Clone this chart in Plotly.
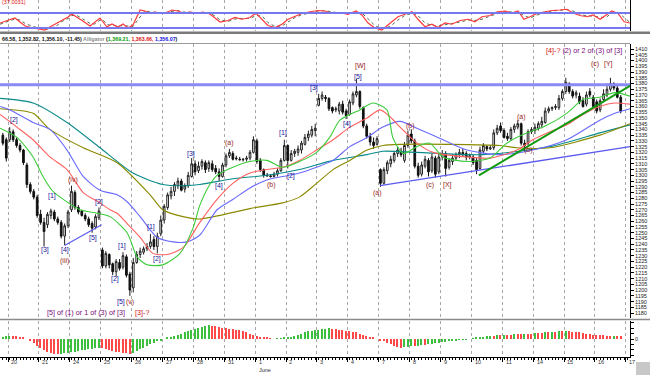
import plotly.graph_objects as go

# ---------------- data ----------------
days = ["20", "21", "24", "25", "26", "27", "28", "31", "1", "2", "3", "4",
        "7", "8", "9", "10", "11", "14", "15", "16", "17"]
month_label = "June"
month_day_index = 8
BARS_PER_DAY = 9
LEAD_BARS = 2

opens = [1335, 1331, 1331, 1338, 1331, 1326, 1322, 1309, 1292, 1286, 1281,
         1266, 1259, 1257, 1265, 1268, 1262, 1259, 1247, 1256,
         1270, 1285, 1272, 1269, 1265, 1262, 1258, 1255, 1263,
         1235, 1221, 1231, 1223, 1216, 1224, 1220, 1229, 1214,
         1202, 1224, 1231, 1233, 1236, 1238, 1244, 1238, 1249,
         1261, 1272, 1282, 1286, 1291, 1295, 1288, 1291, 1299,
         1310, 1304, 1308, 1311, 1306, 1310, 1306, 1303, 1299,
         1309, 1317, 1319, 1315, 1314, 1313.5, 1314, 1315, 1320,
         1330, 1313, 1305, 1300, 1299.5, 1299, 1301, 1304, 1313,
         1326, 1313, 1319, 1320, 1322, 1327, 1333, 1335, 1339,
         1361, 1367, 1368, 1367, 1359, 1357, 1356, 1362, 1356,
         1353, 1363, 1370, 1373, 1359, 1343, 1334, 1329, 1327,
         1305, 1293, 1304, 1310, 1313, 1319, 1321, 1313, 1326,
         1336, 1330, 1308, 1301, 1308, 1313, 1304, 1315, 1303,
         1316, 1319, 1307, 1312, 1315, 1318, 1320, 1319, 1316,
         1316, 1313, 1306, 1321, 1325, 1323, 1324, 1337, 1343,
         1339, 1334, 1332, 1340, 1342, 1345, 1328, 1328, 1338,
         1339, 1341, 1344, 1346, 1356, 1358, 1359, 1359, 1367,
         1373, 1380, 1373, 1370, 1369, 1365, 1362, 1373, 1368,
         1364, 1357, 1366, 1370, 1375, 1380, 1376, 1368]
highs = [1337, 1333, 1342, 1340, 1333, 1328, 1323, 1311, 1294, 1288, 1283,
         1270, 1263, 1268, 1271, 1270, 1264, 1261, 1258, 1270,
         1291, 1287, 1274, 1270, 1267, 1264, 1260, 1266, 1272,
         1237, 1234, 1232, 1224, 1227, 1227, 1233, 1231, 1216,
         1228, 1234, 1237, 1238, 1241, 1249, 1247, 1250, 1265,
         1275, 1285, 1290, 1294, 1298, 1297, 1293, 1303, 1315,
         1313, 1312, 1314, 1313, 1313, 1313, 1309, 1306, 1311,
         1319, 1323, 1321, 1317, 1316, 1315, 1317, 1322, 1334,
         1332, 1315, 1306, 1302, 1301, 1303, 1306, 1315, 1331,
         1327, 1322, 1323, 1326, 1330, 1336, 1339, 1343, 1345,
         1371, 1373, 1370, 1368, 1360, 1360, 1364, 1365, 1358,
         1366, 1373, 1384, 1374, 1360, 1345, 1337, 1333, 1334,
         1306, 1307, 1313, 1317, 1321, 1325, 1324, 1329, 1339,
         1340, 1332, 1311, 1312, 1317, 1315, 1319, 1317, 1320,
         1322, 1321, 1315, 1318, 1320, 1323, 1323, 1321, 1319,
         1318, 1315, 1325, 1328, 1326, 1326, 1340, 1344, 1346,
         1341, 1337, 1342, 1345, 1348, 1346, 1331, 1340, 1342,
         1345, 1347, 1351, 1359, 1360, 1360, 1362, 1370, 1375,
         1385, 1381, 1375, 1374, 1372, 1368, 1373, 1376, 1370,
         1366, 1367, 1375, 1380, 1385, 1381, 1379, 1370]
lows = [1326, 1312, 1329, 1329, 1324, 1320, 1309, 1289, 1284, 1279, 1263,
        1257, 1238, 1254, 1262, 1260, 1257, 1245, 1239, 1254,
        1268, 1270, 1266, 1264, 1260, 1255, 1250, 1253, 1261,
        1219, 1219, 1219, 1213, 1212, 1217, 1218, 1211, 1195,
        1198, 1223, 1228, 1231, 1234, 1236, 1235, 1232, 1247,
        1258, 1270, 1279, 1282, 1288, 1286, 1285, 1289, 1298,
        1300, 1302, 1305, 1302, 1303, 1303, 1301, 1295, 1298,
        1307, 1315, 1313, 1313, 1313, 1312, 1312, 1313, 1319,
        1310, 1303, 1298, 1299, 1298, 1298, 1299, 1303, 1312,
        1306, 1312, 1316, 1317, 1319, 1326, 1330, 1333, 1334,
        1360, 1365, 1364, 1356, 1354, 1355, 1353, 1353, 1349,
        1352, 1361, 1368, 1358, 1341, 1332, 1326, 1323, 1326,
        1290, 1292, 1301, 1307, 1311, 1316, 1316, 1311, 1324,
        1328, 1306, 1298, 1299, 1306, 1299, 1302, 1298, 1301,
        1313, 1299, 1305, 1309, 1313, 1315, 1316, 1313, 1314,
        1309, 1301, 1305, 1319, 1321, 1322, 1322, 1335, 1337,
        1332, 1330, 1330, 1337, 1340, 1326, 1322, 1326, 1336,
        1336, 1339, 1341, 1345, 1354, 1356, 1357, 1357, 1365,
        1371, 1371, 1367, 1367, 1362, 1359, 1360, 1368, 1359,
        1354, 1355, 1364, 1368, 1373, 1374, 1367, 1354]
closes = [1328, 1315, 1338, 1331, 1326, 1322, 1311, 1292, 1286, 1281, 1265,
          1259, 1251, 1266, 1269, 1262, 1259, 1247, 1256, 1268,
          1286, 1272, 1268, 1265, 1262, 1257, 1254, 1264, 1269,
          1221, 1232, 1222, 1216, 1225, 1219, 1230, 1213, 1200,
          1224, 1231, 1234, 1236, 1238, 1242, 1238, 1247, 1261,
          1273, 1283, 1286, 1292, 1295, 1287, 1291, 1300, 1310,
          1303, 1308, 1312, 1305, 1311, 1305, 1303, 1299, 1309,
          1317, 1320, 1314, 1314.5, 1313.5, 1314, 1315, 1320, 1331,
          1312, 1305, 1300, 1299.5, 1299, 1301, 1304, 1313, 1326,
          1313, 1319, 1321, 1323, 1328, 1333, 1336, 1340, 1341,
          1367, 1370, 1367, 1358, 1356, 1358, 1362, 1355, 1352,
          1364, 1371, 1373, 1360, 1343, 1334, 1329, 1326, 1332,
          1293, 1305, 1311, 1314, 1319, 1322, 1318, 1326, 1335,
          1330, 1308, 1300, 1309, 1314, 1303, 1316, 1301, 1316,
          1319, 1306, 1313, 1315, 1318, 1320, 1318, 1316, 1317,
          1311, 1305, 1322, 1326, 1323, 1324, 1337, 1341, 1339,
          1333, 1332, 1340, 1343, 1345, 1328, 1326, 1338, 1340,
          1342, 1345, 1347, 1356, 1358, 1359, 1360, 1367, 1373,
          1381, 1373, 1369, 1372, 1364, 1360, 1370, 1370, 1360,
          1356, 1365, 1371, 1375, 1380, 1376, 1368, 1356]

# Awesome-oscillator style histogram, one value per bar
ao_values = [2, 2.5, 3, 3, 2.5, 2, 1.5,
             0, -2, -4, -6, -8, -10,
             -12, -13, -13.5, -14,
             -13.5, -13, -12.5, -12, -11.5, -11, -10.5, -10, -9.5, -9, -8.5, -8,
             -8.5, -9.5, -10.5, -11, -11.5, -12, -12.5, -13, -13.5,
             -12.5, -11, -9.5, -8, -6.5, -5, -3.5, -2, -1,
             0, 1, 2, 3, 4, 5, 6, 7, 8, 9, 10, 11, 12,
             12.5, 12, 11.5, 11, 10.5, 10, 9.5, 9, 8.5, 8, 7, 6, 5, 4, 3, 2, 1.5, 1,
             0.5, 0, 0.3, 0.6, 1,
             1.5, 2, 3, 4, 5, 6, 7, 7.5, 8, 8.5, 9, 9.5, 10,
             9.5, 9, 8.5, 8, 7.5, 7, 6.5, 6, 5, 4, 3, 2, 1, 0, -1,
             -2, -3.5, -5, -6.5, -7.5, -8,
             -7.5, -7, -6.5, -6.5, -6, -5.5, -5.5, -5, -4.5, -4, -3.5, -3, -2.5, -2,
             -1.5, -1.2, -0.8, -0.5, -0.2, 0,
             0.5, 1, 1.5, 2, 2.5, 3, 3, 3.5, 3.5, 4, 4, 4, 4.5, 4.5, 4.5, 5, 5, 5,
             5.5, 5.5, 5.5, 6, 6, 6.5, 6.5, 7, 7, 7.5,
             7.2, 6.8, 6.5, 6, 5.5, 5, 4.5, 4, 4, 3.5, 3.5, 3, 3, 3.2, 3, 2.5]

# Moving-average lines (bar position, price)
green_x = [-0.8, 4.1, 8.8, 11.7, 14.3, 16.7, 22.5, 27.4, 31.2, 36.2, 39.1, 42.0, 46.6, 51.6, 55.4,
           57.4, 60.3, 62.4, 67.0, 72.0, 76.9, 81.5, 86.4, 91.4, 95.2, 98.2, 104.0, 107.8, 111.9,
           113.6, 116.6, 120.6, 124.4, 128.2, 135.2, 141.9, 146.8, 152.7, 157.4, 164.3, 169.0,
           173.9, 178.3, 182.7]
green_y = [1341, 1333, 1316, 1299, 1287, 1281, 1270, 1267, 1264, 1250, 1229, 1222, 1222, 1232, 1254,
           1274, 1292, 1300, 1307, 1312, 1313, 1307, 1312, 1320, 1333, 1348, 1357, 1363, 1357,
           1333, 1319, 1325, 1328, 1316, 1312, 1315, 1328, 1337, 1342, 1354, 1366, 1368, 1372, 1369]
red_x = [-0.8, 4.1, 8.8, 13.7, 18.7, 23.4, 28.3, 31.2, 33.3, 36.2, 40.0, 43.7, 47.8, 52.5, 57.4,
         62.4, 67.0, 72.0, 76.9, 81.5, 86.4, 91.4, 96.2, 101.1, 106.1, 109.9, 112.8, 115.7, 120.6,
         125.3, 135.2, 141.9, 149.8, 154.4, 159.4, 164.3, 169.0, 173.9, 178.3, 182.7]
red_y = [1353, 1342, 1331, 1316, 1305, 1285, 1276, 1270, 1267, 1258, 1246, 1232, 1231, 1237, 1259,
         1279, 1293, 1302, 1305, 1307, 1313, 1322, 1331, 1342, 1350, 1357, 1351, 1342, 1328,
         1320, 1316, 1315, 1322, 1331, 1338, 1344, 1353, 1360, 1363, 1362]
blue_x = [-0.8, 2.1, 8.8, 13.7, 18.7, 23.4, 28.3, 33.3, 36.2, 40.0, 44.9, 49.6, 53.6, 57.4, 62.4,
          67.0, 72.0, 76.9, 81.5, 86.4, 91.4, 96.2, 101.1, 106.1, 110.7, 115.7, 120.6, 125.3,
          135.2, 144.8, 154.4, 164.3, 173.9, 178.3, 182.7]
blue_y = [1360, 1357, 1346, 1340, 1322, 1299, 1287, 1283, 1277, 1264, 1246, 1242, 1242, 1248, 1270,
          1279, 1289, 1296, 1299, 1302, 1307, 1313, 1325, 1333, 1342, 1347, 1341, 1335,
          1322, 1318, 1322, 1331, 1348, 1354, 1358]
olive_x = [-0.8, 8.8, 13.7, 23.4, 33.3, 42.9, 46.6, 52.5, 57.4, 72.0, 81.5, 86.4, 91.4, 96.2,
           101.1, 106.1, 110.7, 115.7, 130.2, 144.8, 149.8, 159.4, 173.9, 182.7]
olive_y = [1358, 1354, 1340, 1324, 1311, 1283, 1270, 1264, 1262, 1271, 1276, 1281, 1293, 1305,
           1313, 1322, 1326, 1327, 1327, 1326, 1324, 1324, 1335, 1345]
teal_x = [-0.8, 8.8, 18.7, 28.3, 37.9, 46.6, 53.6, 57.4, 67.0, 76.9, 86.4, 96.2, 106.1, 110.7,
          120.6, 139.9, 159.4, 173.9, 182.7]
teal_y = [1367, 1363, 1346, 1324, 1302, 1292, 1291, 1292, 1297, 1300, 1305, 1313, 1318, 1321,
          1320, 1318, 1325, 1337, 1344]

# Oscillator (top panel)
osc_x = [-0.8, 1.5, 3.5, 5.0, 6.5, 8.8, 10.8, 12.3, 13.7, 15.8,
         17.2, 19.0, 20.1, 21.6, 23.3, 25.4, 26.8, 28.3, 29.2, 30.3,
         31.8, 33.5, 35.0, 36.5, 37.9, 40.0, 41.4, 42.9, 44.3, 45.8,
         47.2, 49.3, 51.0, 52.5, 54.5, 56.6, 58.3, 60.3, 61.8, 63.3,
         65.6, 67.6, 69.7, 72.0, 73.7, 75.5, 77.2, 79.3, 81.3, 83.1,
         85.1, 87.1, 89.5, 91.8, 93.8, 96.2, 98.2, 100.5, 102.9, 104.6,
         106.4, 108.4, 110.4, 112.8, 115.1, 117.1, 119.2, 120.9, 123.0, 125.0,
         126.8, 128.8, 130.8, 133.2, 135.5, 137.5, 139.6, 141.9, 144.0, 146.3,
         148.3, 150.1, 151.8, 153.6, 155.6, 157.9, 160.0, 162.3, 164.3, 166.1,
         168.1, 170.2, 171.9, 174.0, 175.7, 177.4, 179.2, 181.0, 182.7]
osc_main = [40, 52, 60, 44, 28, 20, 16, 12, 24, 40,
            52, 64, 76, 64, 48, 28, 44, 60, 44, 24,
            36, 24, 36, 20, 32, 92, 88, 80, 84, 80,
            80, 92, 88, 80, 84, 80, 84, 76, 60, 44,
            50, 62, 55, 62, 80, 55, 30, 22, 35, 55,
            68, 78, 85, 90, 88, 78, 82, 75, 88, 72,
            40, 20, 12, 40, 65, 75, 85, 55, 25, 35,
            22, 40, 35, 50, 55, 45, 65, 70, 85, 88,
            80, 88, 55, 65, 78, 85, 90, 92, 95, 80,
            70, 65, 72, 55, 70, 88, 78, 45, 40]
osc_signal = [35, 45, 56, 52, 38, 26, 18, 14, 18, 30,
              46, 58, 70, 70, 56, 38, 36, 52, 52, 34,
              30, 30, 30, 28, 26, 62, 90, 84, 82, 82,
              80, 86, 90, 84, 82, 82, 82, 80, 68, 52,
              46, 56, 58, 58, 70, 68, 42, 26, 28, 45,
              62, 73, 82, 88, 89, 83, 80, 78, 82, 80,
              56, 30, 16, 26, 52, 70, 80, 70, 40, 30,
              28, 32, 38, 44, 52, 50, 55, 68, 78, 86,
              84, 84, 70, 60, 72, 82, 88, 91, 93, 88,
              75, 68, 68, 63, 62, 80, 83, 62, 42]
osc_bands = [80, 20]
osc_label = "(37.0031)"

resistance = 1379
trend_lines = [  # (x0, y0, x1, y1, colour, width)
    (18.1, 1239, 28.8, 1257, "#5a5af0", 1.2),
    (109.9, 1291, 182.7, 1325, "#5a5af0", 1.4),
    (138.7, 1300, 182.7, 1378, "#109a10", 2.0),
]

BLUE, RED, PURPLE, NOTE_RED = "#16169a", "#9a1c1c", "#7a0a7a", "#d01010"
wave_labels = [
    ("[2]", 3.3, 1348, BLUE), ("(iv)", 20.4, 1296, RED), ("[1]", 14.3, 1282, BLUE),
    ("[2]", 28.0, 1277, BLUE), ("[3]", 12.3, 1235, BLUE), ("[4]", 18.1, 1235, BLUE),
    ("(iii)", 18.1, 1225, RED), ("[5]", 26.3, 1245, BLUE), ("[1]", 34.7, 1238, BLUE),
    ("[2]", 32.7, 1210, BLUE), ("[1]", 43.2, 1255, BLUE), ("[2]", 44.9, 1227, BLUE),
    ("[5]", 34.4, 1190, BLUE), ("(v)", 36.9, 1190, RED), ("[3]", 54.8, 1319, BLUE),
    ("(a)", 65.9, 1328, RED), ("[4]", 63.0, 1291, BLUE), ("(b)", 78.4, 1292, RED),
    ("[1]", 81.6, 1337, BLUE), ("[2]", 84.0, 1299, BLUE), ("[3]", 90.6, 1376, BLUE),
    ("[4]", 100.2, 1345, BLUE), ("[5]", 103.5, 1386, BLUE), ("[W]", 104.3, 1395, RED),
    ("(a)", 109.0, 1285, RED), ("(b)", 118.9, 1343, RED), ("(c)", 124.4, 1292, RED),
    ("[X]", 129.4, 1292, RED), ("(a)", 151.2, 1351, RED), ("(b)", 153.0, 1322, RED),
    ("(c)", 172.5, 1397, RED), ("[Y]", 176.3, 1397, RED),
]
notes = [  # (text, x, y, colour)
    ("<span style='color:#d01010'>[4]-?</span> (2) or 2 of (3) of [3]", 169.3, 1409, PURPLE),
    ("[5] of (1) or 1 of (3) of [3]", 24.2, 1180.5, PURPLE),
    ("[3]-?", 40.5, 1180.5, NOTE_RED),
]
header = ("<b>66.58, 1,352.82, 1,356.10, -11.45) <span style='color:#8a8a8a'>Alligator</span> ("
          "<span style='color:#0a9a0a'>1,369.21,</span> <span style='color:#e01010'>1,363.66,</span> "
          "<span style='color:#1010e0'>1,356.07</span>)</b>")

# ---------------- layout constants ----------------
W, H = 650, 375
X_RANGE = [-0.83, 182.7]
Y_RANGE = [1175.7, 1414.4]
XDOM = [0, 630 / W]
FONT = "Liberation Sans, Arial, sans-serif"


def py(px):
    return 1 - px / H


bars = list(range(len(opens)))
day_start = [LEAD_BARS - 0.5 + BARS_PER_DAY * d for d in range(len(days))]

fig = go.Figure()
fig.add_trace(go.Candlestick(
    x=bars, open=opens, high=highs, low=lows, close=closes,
    increasing=dict(line=dict(color="#202020", width=1), fillcolor="white"),
    decreasing=dict(line=dict(color="#101010", width=1), fillcolor="#101010"),
    whiskerwidth=0, xaxis="x", yaxis="y", showlegend=False, hoverinfo="skip"))

for xs, ys, col in [(teal_x, teal_y, "#0a8a8a"), (olive_x, olive_y, "#8a8a00"),
                    (blue_x, blue_y, "#6a6aff"), (red_x, red_y, "#ff6060"),
                    (green_x, green_y, "#3ccc3c")]:
    fig.add_trace(go.Scatter(x=xs, y=ys, mode="lines", xaxis="x", yaxis="y",
                             line=dict(color=col, width=1.1, shape="spline", smoothing=0.7),
                             showlegend=False, hoverinfo="skip"))

fig.add_trace(go.Scatter(x=osc_x, y=osc_signal, mode="lines", xaxis="x2", yaxis="y2",
                         line=dict(color="#507050", width=1, dash="dot"),
                         showlegend=False, hoverinfo="skip"))
fig.add_trace(go.Scatter(x=osc_x, y=osc_main, mode="lines", xaxis="x2", yaxis="y2",
                         line=dict(color="#ff3a3a", width=1.2),
                         showlegend=False, hoverinfo="skip"))

ao_colors = ["#3cbf3c" if i > 0 and v > ao_values[i - 1] else "#ff4848"
             for i, v in enumerate(ao_values)]
ao_colors[0] = "#3cbf3c"
fig.add_trace(go.Bar(x=bars, y=ao_values, xaxis="x3", yaxis="y3", width=0.42,
                     marker=dict(color=ao_colors, line=dict(width=0)),
                     showlegend=False, hoverinfo="skip"))

shapes = []
shapes.append(dict(type="line", xref="x", yref="y", x0=X_RANGE[0], x1=X_RANGE[1],
                   y0=resistance, y1=resistance, line=dict(color="#8a8af5", width=3)))
for b in osc_bands:
    shapes.append(dict(type="line", xref="x2", yref="y2", x0=X_RANGE[0], x1=X_RANGE[1],
                       y0=b, y1=b, line=dict(color="#7878ee", width=2)))
for x0, y0, x1, y1, col, w in trend_lines:
    shapes.append(dict(type="line", xref="x", yref="y", x0=x0, y0=y0, x1=x1, y1=y1,
                       line=dict(color=col, width=w)))
# panel separators / chrome
shapes.append(dict(type="rect", xref="paper", yref="paper", x0=0, x1=1, y0=py(34), y1=py(31.5),
                   fillcolor="#7a7a7a", line=dict(width=0)))
shapes.append(dict(type="line", xref="paper", yref="paper", x0=0, x1=XDOM[1], y0=py(43.5), y1=py(43.5),
                   line=dict(color="#9a9a9a", width=1)))
shapes.append(dict(type="line", xref="paper", yref="paper", x0=0, x1=1, y0=py(319.5), y1=py(319.5),
                   line=dict(color="#8a8a8a", width=1.5)))
shapes.append(dict(type="rect", xref="paper", yref="paper", x0=636 / W, x1=1, y0=0, y1=py(362),
                   fillcolor="#c8c8c8", line=dict(width=0)))

annotations = []
for t, x, y, col in wave_labels:
    annotations.append(dict(text=t, x=x, y=y, xref="x", yref="y", showarrow=False,
                            font=dict(size=7, color=col, family=FONT)))
for t, x, y, col in notes:
    annotations.append(dict(text=t, x=x, y=y, xref="x", yref="y", showarrow=False,
                            font=dict(size=7.2, color=col, family=FONT)))
annotations.append(dict(text=header, x=0, y=py(38.5), xref="paper", yref="paper",
                        xanchor="left", yanchor="middle", showarrow=False,
                        font=dict(size=5.3, color="#101010", family=FONT)))
annotations.append(dict(text=osc_label, x=0, y=py(1.5), xref="paper", yref="paper",
                        xanchor="left", yanchor="middle", showarrow=False,
                        font=dict(size=5.5, color="#e01010", family=FONT)))
for d, lab in enumerate(days):
    annotations.append(dict(text=lab, x=day_start[d] + 0.4, y=py(361.5), xref="x3", yref="paper",
                            xanchor="left", yanchor="middle", showarrow=False,
                            font=dict(size=5.5, color="#303030", family=FONT)))
annotations.append(dict(text=month_label, x=day_start[month_day_index] + 0.4, y=py(370),
                        xref="x3", yref="paper", xanchor="left", yanchor="middle", showarrow=False,
                        font=dict(size=5.5, color="#303030", family=FONT)))

grid = dict(tickmode="array", tickvals=day_start, showgrid=True, gridcolor="#a8a8a8",
            griddash="dot", gridwidth=1, zeroline=False, range=X_RANGE, domain=XDOM)

fig.update_layout(
    width=W, height=H, margin=dict(l=0, r=0, t=0, b=0),
    paper_bgcolor="white", plot_bgcolor="white",
    font=dict(family=FONT, size=6, color="#222"),
    showlegend=False, bargap=0,
    xaxis=dict(**grid, anchor="y", showticklabels=False, ticks="",
               rangeslider=dict(visible=False)),
    xaxis2=dict(**grid, anchor="y2", matches="x", showticklabels=False, ticks=""),
    xaxis3=dict(**grid, anchor="y3", matches="x", showticklabels=False, ticks="outside",
                ticklen=4, tickcolor="#000", showline=True, linecolor="#000", linewidth=1,
                minor=dict(tickmode="linear", tick0=0, dtick=1, ticks="outside",
                           ticklen=2, tickcolor="#000")),
    yaxis=dict(domain=[py(318), py(44)], range=Y_RANGE, side="right", anchor="x",
               tickmode="array", tickvals=list(range(1180, 1411, 5)), ticks="outside",
               ticklen=3, tickcolor="#000", showline=True, linecolor="#000", linewidth=1,
               showgrid=False, zeroline=False, tickfont=dict(size=5.5, color="#222")),
    yaxis2=dict(domain=[py(31), 1], range=[8, 132], side="right", anchor="x2",
                showticklabels=False, ticks="", showline=True, linecolor="#000",
                showgrid=False, zeroline=False),
    yaxis3=dict(domain=[py(357), py(321)], range=[-16.5, 16.5], side="right", anchor="x3",
                tickmode="array", tickvals=[-15, -10, -5, 0, 5, 10, 15],
                ticktext=["", "", "", "0", "", "", ""], ticks="outside", ticklen=3,
                tickcolor="#000", showline=True, linecolor="#000", showgrid=False,
                zeroline=False, tickfont=dict(size=5.5, color="#222")),
    shapes=shapes, annotations=annotations,
)

fig.write_html(
    "out.html",
    config={"displayModeBar": False},
    post_script="document.body.style.margin='0';document.body.style.overflow='hidden';",
)
